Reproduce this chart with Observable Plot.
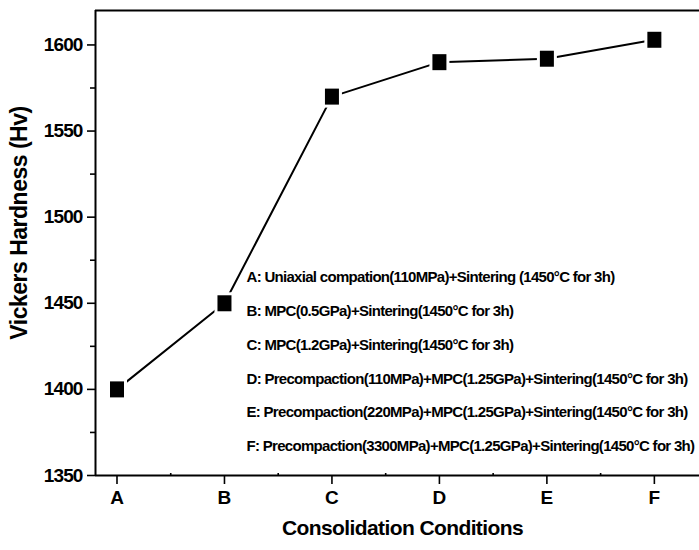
<!DOCTYPE html>
<html><head><meta charset="utf-8">
<script src="https://cdn.jsdelivr.net/npm/d3@7"></script>
<script src="https://cdn.jsdelivr.net/npm/@observablehq/plot@0.6"></script>
<style>
body{margin:0;background:#fff}
svg{font-family:"Liberation Sans",Arial,sans-serif;}
svg text{font-weight:bold;}
.ticky text{letter-spacing:-0.9px;}
.tickx text{letter-spacing:0px;}
.legend text{letter-spacing:-0.7px;}
.titles text{letter-spacing:-0.6px;}
.ytitle text{letter-spacing:-0.5px;}
</style>
</head><body><div id="chart"></div>
<script>
const categories = ["A","B","C","D","E","F"];
const hardness = [1400,1450,1570,1590,1592,1603];
const yTicks = [1350,1400,1450,1500,1550,1600];
const yMinorTicks = [1375,1425,1475,1525,1575];
const xTitle = "Consolidation Conditions";
const yTitle = "Vickers Hardness (Hv)";
const legendLines = [
  "A: Uniaxial compation(110MPa)+Sintering (1450°C for 3h)",
  "B: MPC(0.5GPa)+Sintering(1450°C for 3h)",
  "C: MPC(1.2GPa)+Sintering(1450°C for 3h)",
  "D: Precompaction(110MPa)+MPC(1.25GPa)+Sintering(1450°C for 3h)",
  "E: Precompaction(220MPa)+MPC(1.25GPa)+Sintering(1450°C for 3h)",
  "F: Precompaction(3300MPa)+MPC(1.25GPa)+Sintering(1450°C for 3h)"
];
const data = categories.map((c, i) => ({i, c, v: hardness[i]}));
const xDomain = [-0.2, 5.42];
const yDomain = [1350, 1620];
const rectSymbol = (w, h) => ({draw(ctx) { ctx.rect(-w/2, -h/2, w, h); }});

const plot = Plot.plot({
  width: 699, height: 550,
  marginLeft: 95, marginTop: 10, marginRight: 0, marginBottom: 75,
  x: {domain: xDomain},
  y: {domain: yDomain},
  style: {color: "#000", background: "#fff"},
  marks: [
    Plot.axisY(yTicks, {tickSize: 8, tickPadding: 5, fontSize: 19, tickFormat: d => String(d), label: null, strokeWidth: 1.6, className: "ticky"}),
    Plot.axisY(yMinorTicks, {tickSize: 5, tickFormat: () => "", label: null, strokeWidth: 1.6}),
    Plot.axisX(d3.range(categories.length), {tickSize: 9, tickPadding: 6, fontSize: 19, tickFormat: i => categories[i], label: null, strokeWidth: 1.6, className: "tickx"}),
    Plot.axisX(d3.range(categories.length - 1).map(i => i + 0.5), {tickSize: -2, tickFormat: () => "", label: null, strokeWidth: 1.6}),
    Plot.ruleY([yDomain[0]], {strokeWidth: 2}),
    Plot.ruleY([yDomain[1]], {strokeWidth: 2}),
    Plot.ruleX([xDomain[0]], {strokeWidth: 2}),
    Plot.line(data, {x: "i", y: "v", stroke: "#000", strokeWidth: 2}),
    Plot.dot(data, {x: "i", y: "v", symbol: rectSymbol(20, 22), fill: "#fff", stroke: "none"}),
    Plot.dot(data, {x: "i", y: "v", symbol: rectSymbol(14, 16), fill: "#000", stroke: "none"}),
    Plot.text([legendLines.join("\n")], {frameAnchor: "left", textAnchor: "start", lineAnchor: "middle", lineHeight: 2.25, dx: 151, dy: 113, fontSize: 15, className: "legend"}),
    Plot.text([yTitle], {frameAnchor: "left", textAnchor: "middle", lineAnchor: "middle", rotate: -90, dx: -76, dy: -20, fontSize: 23, className: "ytitle"}),
    Plot.text([xTitle], {frameAnchor: "bottom", textAnchor: "middle", lineAnchor: "middle", dy: 53, dx: 5, fontSize: 21, className: "titles"})
  ]
});
document.getElementById("chart").appendChild(plot);
</script>
</body></html>
